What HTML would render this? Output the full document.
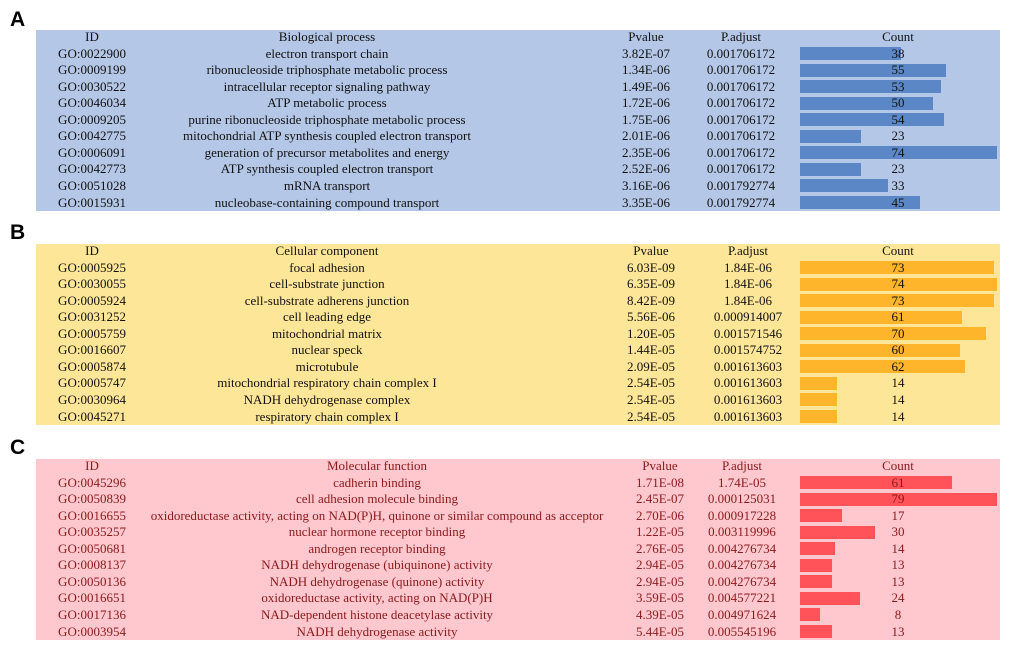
<!DOCTYPE html>
<html><head><meta charset="utf-8">
<style>
body{margin:0;width:1020px;height:658px;background:#fff;position:relative;overflow:hidden;font-family:"Liberation Serif",serif;font-size:13px}
.lbl{position:absolute;font-family:"Liberation Sans",sans-serif;font-weight:bold;font-size:21px}
.panel{position:absolute;left:36px;width:964px;height:181px}
.t{position:absolute;white-space:nowrap;transform:translateX(-50%);line-height:14px}
.bar{position:absolute;height:13px}
</style></head><body>
<div class="lbl" style="left:10px;top:8px">A</div>
<div class="lbl" style="left:10px;top:221px">B</div>
<div class="lbl" style="left:10px;top:436px">C</div>
<div id="pa" class="panel" style="top:30px;background:#b4c7e7"></div>
<div id="pb" class="panel" style="top:244px;background:#fee699"></div>
<div id="pc" class="panel" style="top:459px;background:#ffc7ce"></div>
<script>
const idsA=["GO:0022900","GO:0009199","GO:0030522","GO:0046034","GO:0009205","GO:0042775","GO:0006091","GO:0042773","GO:0051028","GO:0015931"];
const termsA=["electron transport chain","ribonucleoside triphosphate metabolic process","intracellular receptor signaling pathway","ATP metabolic process","purine ribonucleoside triphosphate metabolic process","mitochondrial ATP synthesis coupled electron transport","generation of precursor metabolites and energy","ATP synthesis coupled electron transport","mRNA transport","nucleobase-containing compound transport"];
const pvalA=["3.82E-07","1.34E-06","1.49E-06","1.72E-06","1.75E-06","2.01E-06","2.35E-06","2.52E-06","3.16E-06","3.35E-06"];
const padjA=["0.001706172","0.001706172","0.001706172","0.001706172","0.001706172","0.001706172","0.001706172","0.001706172","0.001792774","0.001792774"];
const countA=[38,55,53,50,54,23,74,23,33,45];
const idsB=["GO:0005925","GO:0030055","GO:0005924","GO:0031252","GO:0005759","GO:0016607","GO:0005874","GO:0005747","GO:0030964","GO:0045271"];
const termsB=["focal adhesion","cell-substrate junction","cell-substrate adherens junction","cell leading edge","mitochondrial matrix","nuclear speck","microtubule","mitochondrial respiratory chain complex I","NADH dehydrogenase complex","respiratory chain complex I"];
const pvalB=["6.03E-09","6.35E-09","8.42E-09","5.56E-06","1.20E-05","1.44E-05","2.09E-05","2.54E-05","2.54E-05","2.54E-05"];
const padjB=["1.84E-06","1.84E-06","1.84E-06","0.000914007","0.001571546","0.001574752","0.001613603","0.001613603","0.001613603","0.001613603"];
const countB=[73,74,73,61,70,60,62,14,14,14];
const idsC=["GO:0045296","GO:0050839","GO:0016655","GO:0035257","GO:0050681","GO:0008137","GO:0050136","GO:0016651","GO:0017136","GO:0003954"];
const termsC=["cadherin binding","cell adhesion molecule binding","oxidoreductase activity, acting on NAD(P)H, quinone or similar compound as acceptor","nuclear hormone receptor binding","androgen receptor binding","NADH dehydrogenase (ubiquinone) activity","NADH dehydrogenase (quinone) activity","oxidoreductase activity, acting on NAD(P)H","NAD-dependent histone deacetylase activity","NADH dehydrogenase activity"];
const pvalC=["1.71E-08","2.45E-07","2.70E-06","1.22E-05","2.76E-05","2.94E-05","2.94E-05","3.59E-05","4.39E-05","5.44E-05"];
const padjC=["1.74E-05","0.000125031","0.000917228","0.003119996","0.004276734","0.004276734","0.004276734","0.004577221","0.004971624","0.005545196"];
const countC=[61,79,17,30,14,13,13,24,8,13];

function build(id,hdr,ids,terms,pv,pa,cnt,cols,barColor,txt){
  const p=document.getElementById(id);
  const max=Math.max(...cnt);
  const barX=764, barW=197;
  function cell(x,y,s,name){
    const d=document.createElement('div');d.className='t';
    d.style.left=x+'px';d.style.top=y+'px';d.style.color=txt;d.textContent=s;
    
    
    p.appendChild(d);
  }
  const heads=['ID',hdr,'Pvalue','P.adjust','Count'];
  heads.forEach((h,i)=>cell(cols[i],0,h,'header-'+h.toLowerCase().replace(/[^a-z]+/g,'-')));
  for(let r=0;r<ids.length;r++){
    const y=16.55*(r+1);
    const b=document.createElement('div');b.className='bar';
    b.style.left=barX+'px';b.style.top=(y+0.5)+'px';b.style.width=(cnt[r]/max*barW)+'px';b.style.background=barColor;
    
    
    p.appendChild(b);
    cell(cols[0],y,ids[r],'go-id');
    cell(cols[1],y,terms[r],'term');
    cell(cols[2],y,pv[r],'pvalue');
    cell(cols[3],y,pa[r],'p-adjust');
    cell(cols[4],y,String(cnt[r]),'count-value');
  }
}
build('pa','Biological process',idsA,termsA,pvalA,padjA,countA,[56,291,610,705,862],'#5b87c7','#111');
build('pb','Cellular component',idsB,termsB,pvalB,padjB,countB,[56,291,615,712,862],'#ffb52b','#111');
build('pc','Molecular function',idsC,termsC,pvalC,padjC,countC,[56,341,624,706,862],'#ff5359','#8b1a1a');
</script>
</body></html>
